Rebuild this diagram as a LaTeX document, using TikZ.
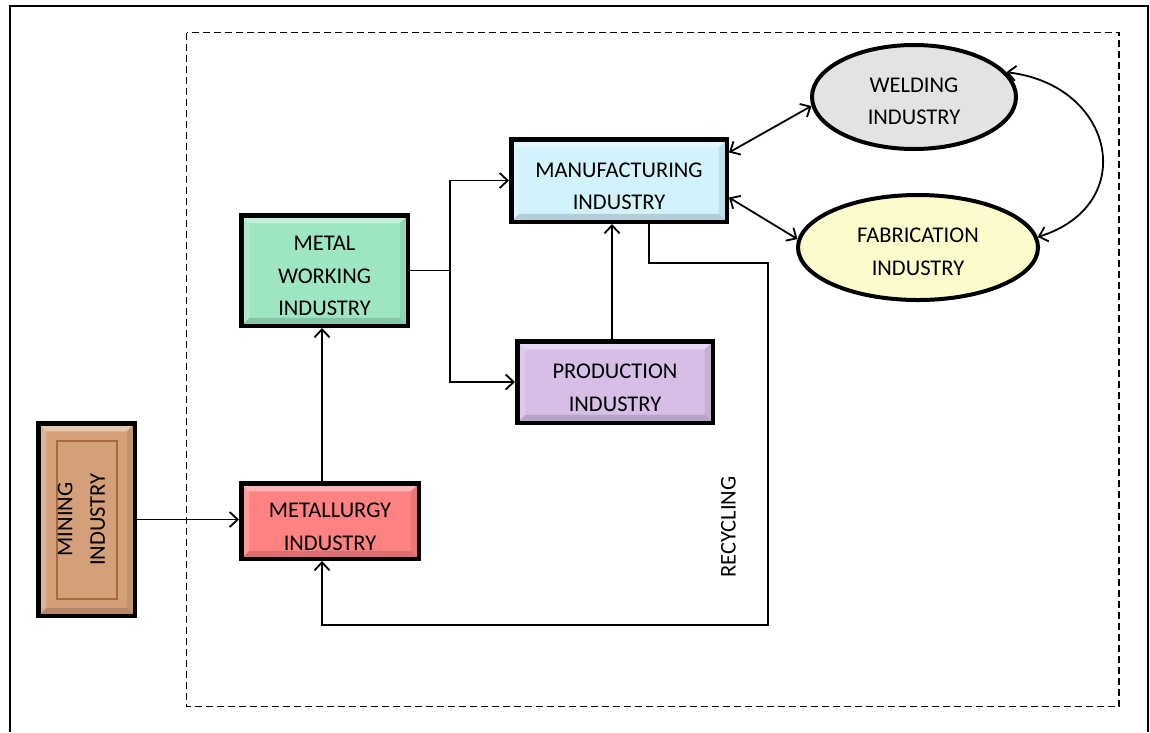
\documentclass[tikz,border=0pt]{standalone}
\usepackage{fontspec}
\setmainfont{Carlito}
\usetikzlibrary{shapes.geometric,arrows.meta,calc}
\definecolor{mincol}{HTML}{D4A07A}
\definecolor{minline}{HTML}{A8683A}
\definecolor{metcol}{HTML}{FF8282}
\definecolor{mwcol}{HTML}{9EE6C2}
\definecolor{mancol}{HTML}{D2F2FC}
\definecolor{procol}{HTML}{D6BEE6}
\definecolor{welcol}{HTML}{E3E3E3}
\definecolor{fabcol}{HTML}{FBFBCB}
\begin{document}
\begin{tikzpicture}[x=1pt,y=-1pt,
  every node/.style={font=\fontsize{22.5}{32.5}\selectfont, text=black},
  conn/.style={line width=1.8pt, -{Straight Barb[length=8pt,width=15pt]}},
  bicon/.style={line width=1.8pt, {Straight Barb[length=8pt,width=15pt]}-{Straight Barb[length=8pt,width=15pt]}},
  bevel/.style={path picture={
     \fill[white,opacity=.4] (path picture bounding box.north west) -- (path picture bounding box.north east) -- ([shift={(-#1,-#1)}]path picture bounding box.north east) -- ([shift={(#1,-#1)}]path picture bounding box.north west) -- cycle;
     \fill[white,opacity=.2] (path picture bounding box.north west) -- (path picture bounding box.south west) -- ([shift={(#1,#1)}]path picture bounding box.south west) -- ([shift={(#1,-#1)}]path picture bounding box.north west) -- cycle;
     \fill[black,opacity=.14] (path picture bounding box.south west) -- (path picture bounding box.south east) -- ([shift={(-#1,#1)}]path picture bounding box.south east) -- ([shift={(#1,#1)}]path picture bounding box.south west) -- cycle;
     \fill[black,opacity=.08] (path picture bounding box.north east) -- (path picture bounding box.south east) -- ([shift={(-#1,#1)}]path picture bounding box.south east) -- ([shift={(-#1,-#1)}]path picture bounding box.north east) -- cycle;
  }},
  box/.style={draw=black, line width=4.5pt, rectangle, align=center, inner sep=0pt, bevel=8pt},
  oval/.style={draw=black, line width=4pt, ellipse, align=center, inner sep=0pt}
]
\newcommand{\lowerbox}{\rule{0pt}{26pt}}
\newcommand{\lowerov}{\rule{0pt}{23pt}}
\useasboundingbox (0,0) rectangle (1150,732);
% outer frame
\draw[line width=2pt] (10,732) -- (10,6) -- (1148,6) -- (1148,732);
% dashed region
\draw[line width=1.6pt, dash pattern=on 7pt off 4pt] (186.5,32.5) rectangle (1119,706.5);

% nodes
\node[box, fill=mincol, minimum width=96.5pt, minimum height=192.5pt] (mining) at (86.5,519.5) {};
\draw[line width=1.5pt, minline] ($(mining.north west)+(21,20)$) rectangle ($(mining.south east)+(-20,-19)$);
\node[rotate=90, align=center] at ([xshift=-5pt]mining.center) {MINING\\INDUSTRY};

\node[box, fill=metcol, minimum width=177.5pt, minimum height=75.5pt] (metal) at (330,521) {\lowerbox METALLURGY\\INDUSTRY};
\node[box, fill=mwcol, minimum width=166.5pt, minimum height=110.5pt] (mw) at (324.5,270.5) {\lowerbox METAL\\WORKING\\INDUSTRY};
\node[box, fill=mancol, minimum width=215.5pt, minimum height=82.5pt] (man) at (619,180.5) {\lowerbox MANUFACTURING\\INDUSTRY};
\node[box, fill=procol, minimum width=195.5pt, minimum height=81.5pt] (pro) at (615,382) {\lowerbox PRODUCTION\\INDUSTRY};
\node[oval, fill=welcol, minimum width=204pt, minimum height=104pt] (wel) at (914,97) {\lowerov WELDING\\INDUSTRY};
\node[oval, fill=fabcol, minimum width=240pt, minimum height=105pt] (fab) at (918,247.5) {\lowerov FABRICATION\\INDUSTRY};

\node[rotate=90] (rec) at (728.5,527) {RECYCLING};

% connectors
\draw[conn] (mining.east) -- (mining.east -| metal.west);
\draw[conn] ([xshift=-8pt]metal.north) -- ([xshift=-8pt]metal.north |- mw.south);
\coordinate (split) at ($(mw.east)+(40,0)$);
\draw[conn] (mw.east) -- (split) |- (man.west);
\draw[conn] (split) |- (pro.west);
\draw[conn] ([xshift=-3pt]pro.north) -- ([xshift=-3pt]pro.north |- man.south);
\coordinate (r1) at (768,263);
\coordinate (r2) at (768,625);
\draw[conn] ([xshift=30pt]man.south) |- (r1) -- (r2) -| ([xshift=-8pt]metal.south);
\draw[bicon] ([yshift=28pt]man.east) -- (wel.185);
\draw[bicon] ([yshift=-17pt]man.east) -- (fab.176);
\draw[bicon] (wel.15) .. controls (1115,85) and (1140,205) .. (fab.5);
\end{tikzpicture}
\end{document}
